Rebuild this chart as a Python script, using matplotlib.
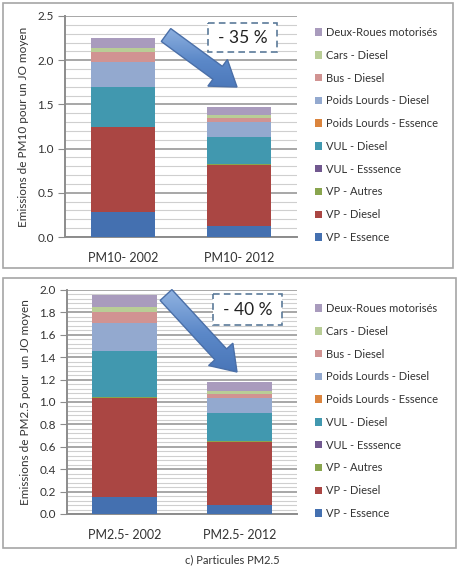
import numpy as np
import matplotlib.pyplot as plt
from matplotlib.patches import Rectangle, FancyArrow
from matplotlib.ticker import MultipleLocator, FormatStrFormatter
from matplotlib.colors import LinearSegmentedColormap

plt.rcParams['font.family'] = ['Lato', 'DejaVu Sans']

# Series (stack order, bottom to top)
series = ["VP - Essence", "VP - Diesel", "VP - Autres", "VUL - Esssence",
          "VUL - Diesel", "Poids Lourds - Essence", "Poids Lourds - Diesel",
          "Bus - Diesel", "Cars - Diesel", "Deux-Roues motorisés"]
colors = ["#4470B0", "#AA4643", "#89A54E", "#71588F", "#4198AF",
          "#DB843D", "#93A9CF", "#D19392", "#B9CD96", "#A99BBD"]

pm10_labels = ["PM10- 2002", "PM10- 2012"]
pm10_2002 = [0.28, 0.965, 0.001, 0.001, 0.445, 0.001, 0.29, 0.11, 0.05, 0.11]
pm10_2012 = [0.13, 0.69, 0.001, 0.001, 0.31, 0.001, 0.165, 0.05, 0.03, 0.09]

pm25_labels = ["PM2.5- 2002", "PM2.5- 2012"]
pm25_2002 = [0.152, 0.888, 0.001, 0.001, 0.41, 0.001, 0.255, 0.095, 0.045, 0.105]
pm25_2012 = [0.077, 0.57, 0.001, 0.001, 0.255, 0.001, 0.13, 0.04, 0.025, 0.075]

W, H = 460, 569
fig = plt.figure(figsize=(W / 100, H / 100), dpi=100)


def fbox(x0, y0, x1, y1):
    # pixel box (top-left origin) -> figure fraction rect
    return [x0 / W, 1 - y1 / H, (x1 - x0) / W, (y1 - y0) / H]


def panel(rect, labels, v1, v2, ymax, major, ylabel, legend_top):
    ax = fig.add_axes(fbox(*rect))
    x = np.arange(2)
    vals = np.array([v1, v2])
    bottom = np.zeros(2)
    handles = []
    for i, name in enumerate(series):
        h = ax.bar(x, vals[:, i], 0.56, bottom=bottom, color=colors[i],
                   label=name, zorder=3)
        bottom += vals[:, i]
        handles.append(h)
    ax.set_xlim(-0.5, 1.5)
    ax.set_ylim(0, ymax)
    ax.yaxis.set_major_locator(MultipleLocator(major))
    ax.yaxis.set_minor_locator(MultipleLocator(major / 5))
    ax.yaxis.set_major_formatter(FormatStrFormatter('%.1f'))
    ax.grid(which='major', axis='y', color='#A0A0A0', lw=1.3, zorder=0)
    ax.grid(which='minor', axis='y', color='#CFCFCF', lw=0.8, zorder=0)
    ax.set_axisbelow(True)
    ax.set_xticks(x)
    ax.set_xticklabels(labels)
    for s in ['top', 'right']:
        ax.spines[s].set_visible(False)
    for s in ['left', 'bottom']:
        ax.spines[s].set_color('#8C8C8C')
        ax.spines[s].set_linewidth(1.4)
    ax.tick_params(axis='y', which='major', length=5, color='#8C8C8C',
                   labelsize=8.5, labelcolor='#333333', pad=3)
    ax.tick_params(axis='y', which='minor', length=0)
    ax.tick_params(axis='x', length=0, labelsize=9, labelcolor='#333333', pad=11)
    ax.set_ylabel(ylabel, fontsize=8.5, color='#333333')
    ax.yaxis.set_label_coords(-0.155, 0.5)
    leg = ax.legend(handles[::-1], series[::-1], loc='upper left',
                    bbox_to_anchor=(315 / W, 1 - legend_top / H),
                    bbox_transform=fig.transFigure, frameon=False,
                    fontsize=8, labelspacing=1.06, handlelength=0.65,
                    handleheight=0.65, handletextpad=0.3, borderpad=0,
                    borderaxespad=0)
    for t in leg.get_texts():
        t.set_color('#333333')
    return ax


panel((65, 16, 297, 237), pm10_labels, pm10_2002, pm10_2012, 2.5, 0.5,
      "Emissions de PM10 pour un JO moyen", 27)
panel((67, 290, 297, 514), pm25_labels, pm25_2002, pm25_2012, 2.0, 0.2,
      "Emissions de PM2.5 pour  un JO moyen", 303)

# overlay in pixel coordinates for frames, arrows and boxes
ov = fig.add_axes([0, 0, 1, 1], facecolor='none')
ov.set_xlim(0, W)
ov.set_ylim(H, 0)
ov.axis('off')

for (x0, y0, x1, y1) in [(3, 3, 453, 268), (3, 278, 456, 548)]:
    ov.add_patch(Rectangle((x0, y0), x1 - x0, y1 - y0, fill=False,
                           ec='#A6A6A6', lw=1.2))

grad = np.linspace(0, 1, 256).reshape(-1, 1)
cmap = LinearSegmentedColormap.from_list('arr', ['#A9C6EC', '#5B88C8', '#3E6AAE'])

for (tx, ty, hx, hy) in [(166, 35, 237, 87), (166, 295, 237, 372)]:
    arr = FancyArrow(tx, ty, hx - tx, hy - ty, width=16, head_width=33,
                     head_length=24, length_includes_head=True,
                     fc='none', ec='#4A6FA8', lw=1.0, zorder=5)
    ov.add_patch(arr)
    im = ov.imshow(grad, cmap=cmap, extent=(tx - 25, hx + 25, hy + 25, ty - 25),
                   aspect='auto', zorder=4)
    im.set_clip_path(arr)
ov.set_xlim(0, W)
ov.set_ylim(H, 0)

for (x0, y0, x1, y1, txt) in [(208, 23, 277, 52, "- 35 %"),
                              (213, 294, 282, 325, "- 40 %")]:
    ov.add_patch(Rectangle((x0, y0), x1 - x0, y1 - y0, fc='white',
                           ec='#5B7A99', lw=1.2, ls=(0, (4, 2.5)), zorder=6))
    ov.text((x0 + x1) / 2, (y0 + y1) / 2, txt, ha='center', va='center',
            fontsize=12.5, color='#222222', zorder=7)

ov.text(232, 560, "c) Particules PM2.5", ha='center', va='center',
        fontsize=8, color='#333333')

fig.savefig("out.png", dpi=100, facecolor='white')
